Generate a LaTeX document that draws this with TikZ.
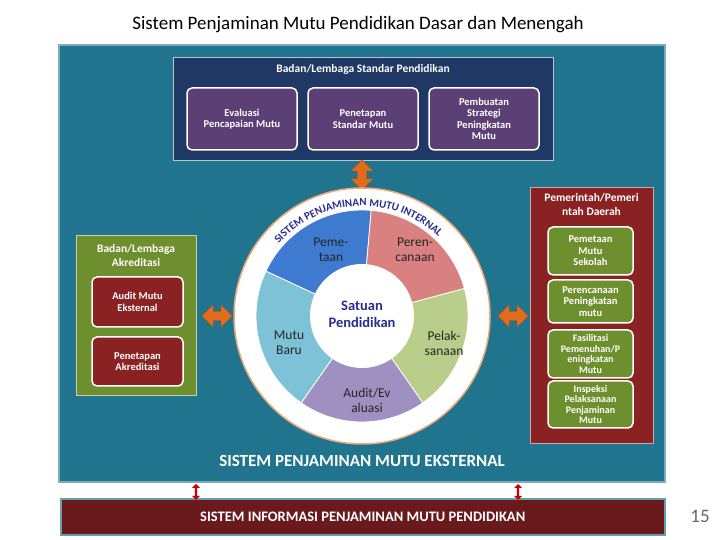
\documentclass[tikz,border=0pt]{standalone}
\usepackage{fontspec}
\setmainfont{Carlito}
\usetikzlibrary{shapes.arrows,decorations.text}
\definecolor{teal1}{HTML}{21748E}
\definecolor{navy1}{HTML}{1F3864}
\definecolor{purp1}{HTML}{5B3F75}
\definecolor{grn1}{HTML}{6E8F2E}
\definecolor{red1}{HTML}{8A2122}
\definecolor{dred}{HTML}{6B1A1C}
\definecolor{orng}{HTML}{E36C1A}
\definecolor{segA}{HTML}{3E7BD0}
\definecolor{segB}{HTML}{D98080}
\definecolor{segC}{HTML}{B8CE8A}
\definecolor{segD}{HTML}{A090C2}
\definecolor{segE}{HTML}{7EC2D8}
\definecolor{txtblue}{HTML}{2A2C8F}
\tikzset{
 inbox/.style={draw=white,line width=1.5pt,rounded corners=5pt,text=white,font=\bfseries\fontsize{10.5}{11.5}\selectfont,align=center},
 hdr/.style={text=white,font=\bfseries\fontsize{11.5}{14}\selectfont,align=center},
 fatarrow/.style={double arrow,fill=orng,draw=orng!80!black,minimum height=30pt,minimum width=22pt,double arrow head extend=3pt,inner sep=2pt},
 thinarrow/.style={double arrow,fill=red!80!black,minimum height=16pt,minimum width=8pt,double arrow head extend=2pt,inner sep=0.5pt},
 seg/.style={draw=white,line width=0.8pt},
 segtxt/.style={font=\fontsize{13.5}{15}\selectfont,align=center,text=black!85}
}
\begin{document}
\begin{tikzpicture}[x=1pt,y=1pt]
\useasboundingbox[fill=white] (0,0) rectangle (720,540);
\node[font=\fontsize{19}{21}\selectfont] (title) at (358,515) {Sistem Penjaminan Mutu Pendidikan Dasar dan Menengah};
\node[draw=teal1!60!white,line width=1.5pt,fill=teal1,minimum width=606pt,minimum height=437pt,anchor=south west,inner sep=0] (outer) at (58,57) {};
\node[fill=navy1,draw=white!70!navy1,minimum width=380pt,minimum height=103pt,anchor=south west,inner sep=0] (std) at (173,380) {};
\node[hdr] (stdt) at (363,471) {Badan/Lembaga Standar Pendidikan};
\node[inbox,fill=purp1,minimum width=110pt,minimum height=62pt] (p1) at (242,421) {Evaluasi\\Pencapaian Mutu};
\node[inbox,fill=purp1,minimum width=110pt,minimum height=62pt] (p2) at (363,421) {Penetapan\\Standar Mutu};
\node[inbox,fill=purp1,minimum width=110pt,minimum height=62pt] (p3) at (484,421) {Pembuatan\\Strategi\\Peningkatan\\Mutu};
\node[fatarrow,rotate=90] (av) at (362,365) {};
% left
\node[fill=grn1,draw=white!60!grn1,minimum width=120pt,minimum height=160pt,anchor=south west,inner sep=0] (akr) at (76,145) {};
\node[hdr] (akrt) at (136,284) {Badan/Lembaga\\Akreditasi};
\node[inbox,fill=red1,minimum width=91pt,minimum height=50pt] (a1) at (137.5,238) {Audit Mutu\\Eksternal};
\node[inbox,fill=red1,minimum width=91pt,minimum height=49pt] (a2) at (137.5,178.5) {Penetapan\\Akreditasi};
\node[fatarrow] (al) at (217,224) {};
% right
\node[fill=red1,draw=white!60!red1,minimum width=123pt,minimum height=256pt,anchor=south west,inner sep=0] (pem) at (530,97) {};
\node[hdr] (pemt) at (591.5,335) {Pemerintah/Pemeri\\ntah Daerah};
\node[inbox,fill=grn1,minimum width=85pt,minimum height=48pt] (g1) at (590.5,289) {Pemetaan\\Mutu\\Sekolah};
\node[inbox,fill=grn1,minimum width=85pt,minimum height=43pt,inner sep=1pt] (g2) at (590.5,238.5) {Perencanaan\\Peningkatan\\mutu};
\node[inbox,fill=grn1,minimum width=85pt,minimum height=48pt,inner sep=1pt,font=\bfseries\fontsize{10}{10.5}\selectfont] (g3) at (590.5,186) {Fasilitasi\\Pemenuhan/P\\eningkatan\\Mutu};
\node[inbox,fill=grn1,minimum width=85pt,minimum height=47pt,inner sep=1pt,font=\bfseries\fontsize{10}{10.5}\selectfont] (g4) at (590.5,135.5) {Inspeksi\\Pelaksanaan\\Penjaminan\\Mutu};
\node[fatarrow] (ar) at (513,224) {};
% circle
\coordinate (c) at (362,224);
\fill[white,draw=orng!60!white,line width=1.5pt] (c) circle (128);
\fill[segA,seg] (c) -- ++(85:106) arc (85:155:106) -- cycle;
\fill[segB,seg] (c) -- ++(15:106) arc (15:85:106) -- cycle;
\fill[segC,seg] (c) -- ++(-55:106) arc (-55:15:106) -- cycle;
\fill[segD,seg] (c) -- ++(-125:106) arc (-125:-55:106) -- cycle;
\fill[segE,seg] (c) -- ++(155:106) arc (155:235:106) -- cycle;
\fill[white] (c) circle (52);
\path[decorate,decoration={text along path,text align=center,text={|\bfseries\fontsize{11}{11}\selectfont\color{txtblue}|SISTEM PENJAMINAN MUTU INTERNAL}}] (c) ++(160:110) arc (160:25:110);
\node[segtxt] (s1) at (331,290) {Peme-\\taan};
\node[segtxt] (s2) at (415,290) {Peren-\\canaan};
\node[segtxt] (s3) at (444,197) {Pelak-\\sanaan};
\node[segtxt] (s4) at (367,140) {Audit/Ev\\aluasi};
\node[segtxt] (s5) at (289,197) {Mutu\\Baru};
\node[font=\bfseries\fontsize{14.5}{17}\selectfont,text=txtblue,align=center] (sp) at (362,226) {Satuan\\Pendidikan};
\node[text=white,font=\bfseries\fontsize{17}{19}\selectfont] (eks) at (362,79) {SISTEM PENJAMINAN MUTU EKSTERNAL};
% bottom
\node[fill=dred,draw=teal1!70!white,line width=1.5pt,minimum width=604pt,minimum height=36pt,anchor=south west,inner sep=0,text=white,font=\bfseries\fontsize{14.5}{16}\selectfont] (sis) at (60,4) {SISTEM INFORMASI PENJAMINAN MUTU PENDIDIKAN};
\node[thinarrow,rotate=90] (b1) at (196,48) {};
\node[thinarrow,rotate=90] (b2) at (518,48) {};
\node[text=black!60,font=\fontsize{19}{21}\selectfont] (pg) at (700,24) {15};
\end{tikzpicture}
\end{document}
